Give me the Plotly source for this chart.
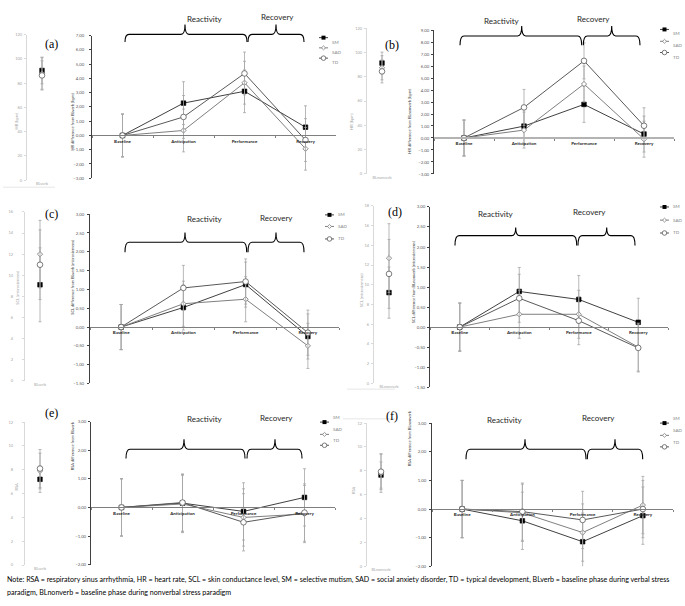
import plotly.graph_objects as go

W, H = 685, 606

phases = ["Baseline", "Anticipation", "Performance", "Recovery"]
groups = ["SM", "SAD", "TD"]

# (a) HR, verbal paradigm: difference from BLverb (bpm)
a_sm = [0.00, 2.27, 3.10, 0.58]
a_sad = [0.00, 0.35, 3.70, -0.93]
a_td = [0.00, 1.30, 4.35, -0.32]
a_err_sm = [1.50, 1.50, 1.50, 1.50]
a_err_sad = [1.50, 1.50, 1.50, 1.50]
a_err_td = [1.50, 1.50, 1.50, 1.50]
a_base = [90.5, 88.0, 86.4]
a_base_err = [11.0, 13.0, 12.0]

# (b) HR, nonverbal paradigm: difference from BLnonverb (bpm)
b_sm = [0.00, 0.99, 2.80, 0.33]
b_sad = [0.00, 0.66, 4.50, -0.10]
b_td = [0.00, 2.55, 6.43, 1.02]
b_err_sm = [1.50, 1.50, 1.50, 1.50]
b_err_sad = [1.50, 1.50, 1.50, 1.50]
b_err_td = [1.50, 1.50, 1.50, 1.50]
b_base = [91.4, 87.5, 84.5]
b_base_err = [9.0, 10.0, 9.5]

# (c) SCL, verbal paradigm (microsiemens)
c_sm = [0.00, 0.52, 1.13, -0.25]
c_sad = [0.00, 0.62, 0.74, -0.50]
c_td = [0.00, 1.04, 1.21, -0.15]
c_err_sm = [0.60, 0.60, 0.60, 0.60]
c_err_sad = [0.60, 0.60, 0.60, 0.60]
c_err_td = [0.60, 0.60, 0.60, 0.60]
c_base = [9.1, 12.0, 11.0]
c_base_err = [3.5, 3.2, 3.3]

# (d) SCL, nonverbal paradigm (microsiemens)
d_sm = [0.00, 0.89, 0.69, 0.12]
d_sad = [0.00, 0.32, 0.32, -0.50]
d_td = [0.00, 0.72, 0.16, -0.52]
d_err_sm = [0.60, 0.60, 0.60, 0.60]
d_err_sad = [0.60, 0.60, 0.60, 0.60]
d_err_td = [0.60, 0.60, 0.60, 0.60]
d_base = [9.2, 12.7, 11.1]
d_base_err = [2.6, 3.5, 3.5]

# (e) RSA, verbal paradigm
e_sm = [0.00, 0.15, -0.14, 0.35]
e_sad = [0.00, 0.12, -0.35, -0.23]
e_td = [0.00, 0.17, -0.52, -0.18]
e_err_sm = [1.00, 1.00, 1.00, 1.00]
e_err_sad = [1.00, 1.00, 1.00, 1.00]
e_err_td = [1.00, 1.00, 1.00, 1.00]
e_base = [7.2, 7.9, 8.1]
e_base_err = [1.1, 1.5, 1.6]

# (f) RSA, nonverbal paradigm
f_sm = [0.00, -0.41, -1.14, -0.23]
f_sad = [0.00, -0.13, -0.82, 0.14]
f_td = [0.00, -0.09, -0.38, 0.00]
f_err_sm = [1.00, 1.00, 1.00, 1.00]
f_err_sad = [1.00, 1.00, 1.00, 1.00]
f_err_td = [1.00, 1.00, 1.00, 1.00]
f_base = [7.65, 7.8, 7.93]
f_base_err = [1.1, 1.6, 1.5]

note_line1 = ("Note: RSA = respiratory sinus arrhythmia, HR = heart rate, SCL = skin conductance level, "
              "SM = selective mutism, SAD = social anxiety disorder, TD = typical development, "
              "BLverb = baseline phase during verbal stress")
note_line2 = "paradigm, BLnonverb = baseline phase during nonverbal stress paradigm"

FONT = "Lato, 'Open Sans', sans-serif"
SERIF = "'Liberation Serif', 'DejaVu Serif', serif"


def px(x):
    return x / W


def py(y):
    return 1 - y / H


# ---------- panel layout (pixel geometry) ----------
panels = [
    dict(letter="(a)", means=[a_sm, a_sad, a_td], errs=[a_err_sm, a_err_sad, a_err_td],
         base=a_base, base_err=a_base_err, base_cat="BLverb",
         rng=[-3, 7], dtick=1, brng=[0, 120], bdtick=20,
         main_x=[92, 336], main_y=[33, 177], base_x=[27, 57], base_y=[32, 179],
         ytitle="HR difference from BLverb (bpm)", ytitle_pos=(68, 89),
         btitle="HR (bpm)", btitle_pos=(12, 110), main_stand=4, base_stand=1,
         letter_pos=(43, 32), xline=("#7f7f7f", 1),
         brace=dict(l=(125, 247, 185), r=(248, 304, 276), yend=39.3, yflat=31.7, ytop=21.7,
                    t1=(185, 9), t2=(277, 7.5)),
         legend=(319, [35, 45.3, 55.7])),
    dict(letter="(b)", means=[b_sm, b_sad, b_td], errs=[b_err_sm, b_err_sad, b_err_td],
         base=b_base, base_err=b_base_err, base_cat="BLnonverb",
         rng=[-3, 9], dtick=1, brng=[0, 120], bdtick=20,
         main_x=[434, 674], main_y=[27.3, 172.7], base_x=[367, 397], base_y=[25.7, 172.3],
         ytitle="HR difference from BLnonverb (bpm)", ytitle_pos=(410, 85),
         btitle="HR (bpm)", btitle_pos=(352, 110), main_stand=1, base_stand=1,
         letter_pos=(392, 33), xline=("#b3b3b3", 2),
         brace=dict(l=(460, 581.7, 521.7), r=(583.3, 640, 611.7), yend=42.7, yflat=33.3, ytop=23.3,
                    t1=(522, 11), t2=(612, 9.5)),
         legend=(660, [26.7, 38.7, 50])),
    dict(letter="(c)", means=[c_sm, c_sad, c_td], errs=[c_err_sm, c_err_sad, c_err_td],
         base=c_base, base_err=c_base_err, base_cat="BLverb",
         rng=[-1.5, 3], dtick=0.5, brng=[0, 16], bdtick=2,
         main_x=[90, 339], main_y=[213.3, 384.3], base_x=[25, 55], base_y=[211, 381.7],
         ytitle="SCL difference from BLverb (microsiemens)", ytitle_pos=(68, 277),
         btitle="SCL (microsiemens)", btitle_pos=(13, 288), main_stand=2, base_stand=8,
         letter_pos=(42.7, 213.3), xline=("#7f7f7f", 1),
         brace=dict(l=(125, 246.7, 185), r=(248, 304, 276), yend=251.7, yflat=241.7, ytop=231.7,
                    t1=(185, 218.3), t2=(276, 216.7)),
         legend=(325, [214, 225.7, 238.3])),
    dict(letter="(d)", means=[d_sm, d_sad, d_td], errs=[d_err_sm, d_err_sad, d_err_td],
         base=d_base, base_err=d_base_err, base_cat="BLnonverb",
         rng=[-1.5, 3], dtick=0.5, brng=[0, 18], bdtick=2,
         main_x=[430, 668], main_y=[206, 388], base_x=[374, 404], base_y=[205, 384],
         ytitle="SCL difference from BLnonverb (microsiemens)", ytitle_pos=(413, 282),
         btitle="SCL (microsiemens)", btitle_pos=(361, 290), main_stand=1, base_stand=1,
         letter_pos=(395, 201.7), xline=("#7f7f7f", 1),
         brace=dict(l=(455, 576.7, 515.7), r=(578, 635, 606.7), yend=245, yflat=235, ytop=226.7,
                    t1=(515.7, 212.7), t2=(608, 211)),
         legend=(660, [206, 219.3, 232.3])),
    dict(letter="(e)", means=[e_sm, e_sad, e_td], errs=[e_err_sm, e_err_sad, e_err_td],
         base=e_base, base_err=e_base_err, base_cat="BLverb",
         rng=[-2, 3], dtick=1, brng=[0, 12], bdtick=2,
         main_x=[91, 335], main_y=[422.7, 567.3], base_x=[25, 55], base_y=[423.3, 567.7],
         ytitle="RSA difference from BLverb", ytitle_pos=(68, 474),
         btitle="RSA", btitle_pos=(12, 495), main_stand=1, base_stand=8,
         letter_pos=(42.7, 423.3), xline=("#7f7f7f", 1),
         brace=dict(l=(126, 245, 184), r=(247, 302, 275), yend=460, yflat=450.7, ytop=440.7,
                    t1=(185, 427.3), t2=(276, 426)),
         legend=(320, [423.3, 435.7, 446.7])),
    dict(letter="(f)", means=[f_sm, f_sad, f_td], errs=[f_err_sm, f_err_sad, f_err_td],
         base=f_base, base_err=f_base_err, base_cat="BLnonverb",
         rng=[-2, 3], dtick=1, brng=[0, 12], bdtick=2,
         main_x=[432, 673], main_y=[424.3, 569], base_x=[367, 395], base_y=[424.3, 569],
         ytitle="RSA difference from BLnonverb", ytitle_pos=(409, 470),
         btitle="RSA", btitle_pos=(353, 498), main_stand=2, base_stand=1,
         letter_pos=(391.7, 426), xline=("#7f7f7f", 1),
         brace=dict(l=(466, 586, 525), r=(587.3, 642.7, 615), yend=460.7, yflat=450.7, ytop=440.7,
                    t1=(525, 428.3), t2=(616.7, 426.7)),
         legend=(660, [424.3, 436.7, 448.3])),
]

LINE_COL = ["#404040", "#7f7f7f", "#595959"]
MARKERS = [
    dict(symbol="square", size=4.6, color="#000000", line=dict(color="#000000", width=0.6)),
    dict(symbol="diamond", size=4, color="#ffffff", line=dict(color="#7f7f7f", width=0.9)),
    dict(symbol="circle", size=5.6, color="#ffffff", line=dict(color="#595959", width=0.8)),
]
ERR_COL = "#a6a6a6"

fig = go.Figure()
layout = dict(width=W, height=H, autosize=False, margin=dict(l=0, r=0, t=0, b=0),
              paper_bgcolor="white", plot_bgcolor="rgba(0,0,0,0)", showlegend=False,
              separators=",.", font=dict(family=FONT, size=5, color="#595959"))
shapes = []
annotations = []


def axname(k, kind):
    return kind if k == 1 else f"{kind}{k}"


def brace_path(x0, x1, xp, yend, yflat, ytop, r=4):
    pts = [
        f"M {px(x0)},{py(yend)}",
        f"Q {px(x0)},{py(yflat)} {px(x0 + r)},{py(yflat)}",
        f"L {px(xp - r)},{py(yflat)}",
        f"Q {px(xp)},{py(yflat)} {px(xp)},{py(ytop)}",
        f"Q {px(xp)},{py(yflat)} {px(xp + r)},{py(yflat)}",
        f"L {px(x1 - r)},{py(yflat)}",
        f"Q {px(x1)},{py(yflat)} {px(x1)},{py(yend)}",
    ]
    return " ".join(pts)


k = 0
for p in panels:
    # ---- baseline inset ----
    k += 1
    xb, yb = axname(k, "x"), axname(k, "y")
    for g in range(3):
        fig.add_trace(go.Scatter(
            x=[p["base_cat"]], y=[p["base"][g]], mode="markers", name=groups[g],
            marker=MARKERS[g],
            error_y=dict(type="data", array=[p["base_err"][g]], color=ERR_COL, thickness=0.8, width=1.5),
            xaxis=xb.replace("axis", ""), yaxis=yb.replace("axis", ""), cliponaxis=False))
    layout[axname(k, "xaxis")] = dict(
        domain=[px(p["base_x"][0]), px(p["base_x"][1])], anchor=yb.replace("axis", ""),
        type="category", range=[-0.5, 0.5], showline=False, ticks="", showgrid=False,
        zeroline=False, tickfont=dict(size=4, color="#a6a6a6"))
    layout[axname(k, "yaxis")] = dict(
        domain=[py(p["base_y"][1]), py(p["base_y"][0])], anchor=xb.replace("axis", ""),
        range=p["brng"], dtick=p["bdtick"], showline=True, linecolor="#d9d9d9", linewidth=1,
        ticks="outside", ticklen=2, tickcolor="#d9d9d9", showgrid=False, zeroline=False,
        tickfont=dict(size=4, color="#a6a6a6"), ticklabelstandoff=p["base_stand"])
    annotations.append(dict(x=px(p["btitle_pos"][0]), y=py(p["btitle_pos"][1]), xref="paper", yref="paper",
                            text=p["btitle"], showarrow=False, textangle=-90,
                            font=dict(size=4, color="#a6a6a6")))

    # ---- main line chart ----
    k += 1
    xm, ym = axname(k, "x"), axname(k, "y")
    for g in range(3):
        fig.add_trace(go.Scatter(
            x=phases, y=p["means"][g], mode="lines+markers", name=groups[g],
            line=dict(color=LINE_COL[g], width=1), marker=MARKERS[g],
            error_y=dict(type="data", array=p["errs"][g], color=ERR_COL, thickness=0.8, width=1.5),
            xaxis=xm.replace("axis", ""), yaxis=ym.replace("axis", ""), cliponaxis=False))
    top, bot = p["main_y"]
    r0, r1 = p["rng"]
    zero_px = bot - (0 - r0) / (r1 - r0) * (bot - top)
    layout[axname(k, "xaxis")] = dict(
        domain=[px(p["main_x"][0]), px(p["main_x"][1])], anchor="free", position=py(zero_px),
        type="category", categoryorder="array", categoryarray=phases, range=[-0.5, 3.5],
        showline=True, linecolor=p["xline"][0], linewidth=p["xline"][1], ticks="outside", ticklen=2,
        tickcolor="#7f7f7f", tickson="boundaries", showgrid=False, zeroline=False,
        tickfont=dict(size=4.5, color="#262626", weight="bold"), ticklabelstandoff=1)
    layout[axname(k, "yaxis")] = dict(
        domain=[py(bot), py(top)], anchor=xm.replace("axis", ""),
        range=p["rng"], dtick=p["dtick"], tick0=0, tickformat=".2f",
        showline=True, linecolor="#404040", linewidth=1, ticks="outside", ticklen=2,
        tickcolor="#404040", showgrid=False, zeroline=False,
        tickfont=dict(size=4.3, color="#595959"), ticklabelstandoff=p["main_stand"])
    annotations.append(dict(x=px(p["ytitle_pos"][0]), y=py(p["ytitle_pos"][1]), xref="paper", yref="paper",
                            text=p["ytitle"], showarrow=False, textangle=-90,
                            font=dict(size=4, color="#404040")))

    # panel letter
    annotations.append(dict(x=px(p["letter_pos"][0]), y=py(p["letter_pos"][1]), xref="paper", yref="paper",
                            text=p["letter"], showarrow=False, font=dict(family=SERIF, size=12, color="#000000")))

    # braces + phase labels
    b = p["brace"]
    for (x0, x1, xp) in (b["l"], b["r"]):
        shapes.append(dict(type="path", xref="paper", yref="paper",
                           path=brace_path(x0, x1, xp, b["yend"], b["yflat"], b["ytop"]),
                           line=dict(color="#000000", width=1.1)))
    annotations.append(dict(x=px(b["t1"][0]), y=py(b["t1"][1]), xref="paper", yref="paper",
                            text="Reactivity", showarrow=False, font=dict(size=8, color="#262626")))
    annotations.append(dict(x=px(b["t2"][0]), y=py(b["t2"][1]), xref="paper", yref="paper",
                            text="Recovery", showarrow=False, font=dict(size=8, color="#262626")))

    # legend (drawn manually, compact like the original)
    lx, lys = p["legend"]
    for g in range(3):
        ly = lys[g]
        shapes.append(dict(type="line", xref="paper", yref="paper", x0=px(lx), x1=px(lx + 9),
                           y0=py(ly), y1=py(ly), line=dict(color=LINE_COL[g], width=1)))
        cx = lx + 4.5
        if g == 0:
            shapes.append(dict(type="rect", xref="paper", yref="paper", x0=px(cx - 2), x1=px(cx + 2),
                               y0=py(ly + 2), y1=py(ly - 2), fillcolor="#000000", line=dict(width=0)))
        elif g == 1:
            shapes.append(dict(type="path", xref="paper", yref="paper",
                               path=f"M {px(cx - 2)},{py(ly)} L {px(cx)},{py(ly - 2)} L {px(cx + 2)},{py(ly)} L {px(cx)},{py(ly + 2)} Z",
                               fillcolor="#ffffff", line=dict(color="#7f7f7f", width=0.8)))
        else:
            shapes.append(dict(type="circle", xref="paper", yref="paper", x0=px(cx - 2.3), x1=px(cx + 2.3),
                               y0=py(ly + 2.3), y1=py(ly - 2.3), fillcolor="#ffffff",
                               line=dict(color="#595959", width=0.8)))
        annotations.append(dict(x=px(lx + 10.5), y=py(ly), xref="paper", yref="paper", xanchor="left",
                                text=groups[g], showarrow=False, font=dict(size=4.5, color="#7f7f7f")))

# faint frame lines of the inset images
for (x0, x1, y) in ((3, 55, 186), (347, 395, 390), (343, 395, 420)):
    shapes.append(dict(type="line", xref="paper", yref="paper", x0=px(x0), x1=px(x1), y0=py(y), y1=py(y),
                       line=dict(color="#e6e6e6", width=1)))

for txt, yy in ((note_line1, 582), (note_line2, 595)):
    annotations.append(dict(x=px(5), y=py(yy), xref="paper", yref="paper", xanchor="left", yanchor="middle",
                            align="left", text=txt, showarrow=False,
                            font=dict(size=7.1, color="#000000", family=FONT)))

layout["shapes"] = shapes
layout["annotations"] = annotations
fig.update_layout(**layout)
fig.write_html("out.html", config={"displayModeBar": False},
               post_script="document.body.style.margin='0px';")
